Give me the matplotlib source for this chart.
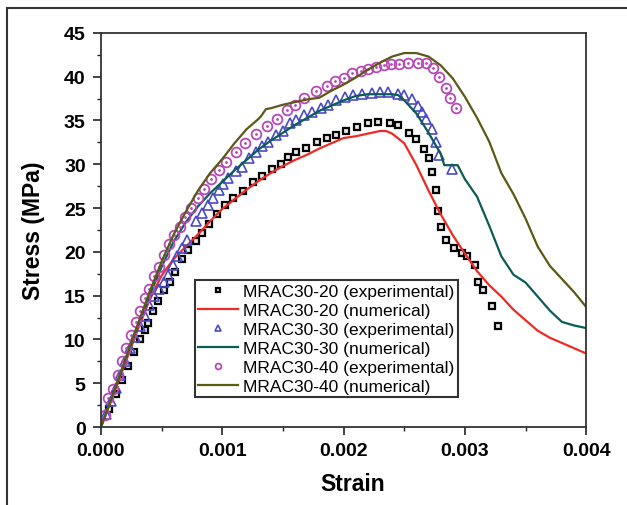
import numpy as np
import matplotlib
matplotlib.use("Agg")
import matplotlib.pyplot as plt
from matplotlib.lines import Line2D
from matplotlib.ticker import MultipleLocator, FormatStrFormatter

plt.rcParams['font.family'] = ['Liberation Sans', 'DejaVu Sans']

# ---- experimental points ----
strain_20_exp = [0.00007, 0.00012, 0.00017, 0.00022, 0.00027, 0.00032, 0.00036, 0.00039, 0.00043,
                 0.00047, 0.00052, 0.00057, 0.00061, 0.00067, 0.00072, 0.00078, 0.00083, 0.00089,
                 0.00096, 0.00102, 0.00109, 0.00117, 0.00125, 0.00133, 0.00141, 0.00148, 0.00154,
                 0.00161, 0.00169, 0.00178, 0.00186, 0.00194, 0.00202, 0.00211, 0.0022, 0.00228,
                 0.00238, 0.00245, 0.00254, 0.0026, 0.00266, 0.0027, 0.00273, 0.00276, 0.00278,
                 0.0028, 0.00284, 0.00291, 0.00298, 0.00302, 0.00308, 0.00311, 0.00315, 0.00322,
                 0.00327]
stress_20_exp = [2.1, 3.8, 5.4, 7.0, 8.6, 10.1, 11.1, 11.9, 13.2,
                 14.4, 15.6, 16.6, 17.7, 19.2, 20.2, 21.2, 22.2, 23.2,
                 24.3, 25.4, 26.1, 26.9, 28.0, 28.7, 29.5, 30.0, 30.8,
                 31.4, 31.9, 32.5, 33.0, 33.4, 33.8, 34.3, 34.7, 34.8,
                 34.7, 34.5, 33.6, 32.9, 31.8, 30.7, 29.1, 27.1, 24.7,
                 22.8, 21.4, 20.5, 19.9, 19.5, 18.5, 16.6, 15.7, 13.8,
                 11.5]

strain_30_exp = [0.00004, 0.00008, 0.00012, 0.00016, 0.0002, 0.00024, 0.00028, 0.00032, 0.00036,
                 0.0004, 0.00044, 0.00048, 0.00052, 0.00055, 0.00059, 0.00063, 0.00067, 0.00071,
                 0.00078, 0.00083, 0.00088, 0.00092, 0.00097, 0.00101, 0.00105, 0.00111, 0.00116,
                 0.00122, 0.00128, 0.00133, 0.00138, 0.00144, 0.0015, 0.00156, 0.00161, 0.00167,
                 0.00174, 0.00181, 0.00187, 0.00194, 0.00201, 0.00208, 0.00215, 0.00223, 0.0023,
                 0.00237, 0.00245, 0.0025, 0.00256, 0.00261, 0.00265, 0.00268, 0.00273, 0.00276,
                 0.00279, 0.00289]
stress_30_exp = [1.5, 3.0, 4.5, 6.0, 7.5, 9.0, 10.3, 11.5, 12.7,
                 13.9, 15.0, 15.8, 16.6, 17.4, 18.5, 19.5, 20.4, 21.4,
                 23.5, 24.4, 25.4, 26.1, 27.1, 27.7, 28.4, 29.2, 29.7,
                 30.7, 31.4, 32.1, 32.6, 33.3, 33.8, 34.7, 35.0, 35.6,
                 36.0, 36.4, 36.8, 37.3, 37.7, 37.9, 38.0, 38.1, 38.2,
                 38.3, 38.0, 37.9, 37.5, 36.6, 36.0, 35.2, 34.0, 32.6,
                 31.1, 29.5]

strain_40_exp = [0.00003, 0.00006, 0.0001, 0.00014, 0.00017, 0.00021, 0.00025, 0.00029, 0.00032,
                 0.00036, 0.0004, 0.00044, 0.00048, 0.00052, 0.00056, 0.0006, 0.00065, 0.00069,
                 0.00074, 0.0008, 0.00085, 0.00091, 0.00097, 0.00103, 0.00111, 0.00119, 0.00128,
                 0.00137, 0.00145, 0.00153, 0.0016, 0.00167, 0.00177, 0.00186, 0.00193, 0.002,
                 0.00207, 0.00214, 0.0022, 0.00227, 0.00233, 0.00239, 0.00246, 0.00253, 0.00261,
                 0.00268, 0.00274, 0.00279, 0.00284, 0.00288, 0.00293]
stress_40_exp = [1.4, 3.3, 4.4, 6.0, 7.5, 9.0, 10.5, 12.0, 13.3,
                 14.7, 15.8, 17.2, 18.3, 19.7, 20.9, 21.9, 22.8, 24.0,
                 25.0, 26.1, 27.2, 28.3, 29.3, 30.3, 31.4, 32.4, 33.5,
                 34.4, 35.2, 36.2, 36.8, 37.6, 38.4, 38.9, 39.5, 39.9,
                 40.4, 40.6, 40.9, 41.1, 41.3, 41.4, 41.5, 41.6, 41.6,
                 41.6, 41.0, 40.0, 38.7, 37.6, 36.4]

# ---- numerical curves ----
strain_20_num = [0, 0.0001, 0.0002, 0.0003, 0.0004, 0.0005, 0.0006, 0.0007, 0.0008, 0.0009,
                 0.001, 0.0011, 0.0012, 0.0013, 0.0014, 0.0015, 0.0016, 0.0017, 0.0018, 0.0019,
                 0.002, 0.0021, 0.0022, 0.0023, 0.00235, 0.0024, 0.0025, 0.0026, 0.0027, 0.0028,
                 0.0029, 0.003, 0.0031, 0.0032, 0.0033, 0.0034, 0.0035, 0.0036, 0.0037, 0.0038,
                 0.0039, 0.004]
stress_20_num = [0, 3.6, 7.3, 11.0, 14.5, 17.3, 19.2, 20.6, 22.0, 23.5,
                 24.9, 26.0, 27.1, 28.1, 29.0, 29.8, 30.5, 31.1, 31.8, 32.4,
                 33.0, 33.2, 33.5, 33.8, 33.8, 33.5, 32.4, 29.9, 27.0, 24.3,
                 21.9, 19.8, 17.8, 16.2, 14.9, 13.4, 12.2, 11.0, 10.2, 9.6,
                 9.0, 8.4]

strain_30_num = [0, 0.0001, 0.0002, 0.0003, 0.0004, 0.0005, 0.0006, 0.0007, 0.0008, 0.0009,
                 0.001, 0.0011, 0.0012, 0.0013, 0.0014, 0.0015, 0.0016, 0.0017, 0.0018, 0.0019,
                 0.002, 0.0021, 0.0022, 0.0023, 0.0024, 0.00245, 0.0025, 0.0026, 0.0027, 0.0028,
                 0.00283, 0.00294, 0.003, 0.0031, 0.0032, 0.0033, 0.0034, 0.0035, 0.0036, 0.0037,
                 0.0038, 0.0039, 0.004]
stress_30_num = [0, 3.8, 7.6, 11.4, 15.0, 18.3, 21.2, 23.4, 25.2, 26.7,
                 28.0, 29.3, 30.5, 31.7, 32.7, 33.6, 34.5, 35.3, 36.1, 36.7,
                 37.3, 37.8, 38.0, 38.0, 38.0, 37.9, 37.3, 35.8, 33.6, 31.2,
                 29.9, 29.9, 28.3, 26.3, 23.0, 19.5, 17.4, 16.5, 14.9, 13.3,
                 12.0, 11.6, 11.3]

strain_40_num = [0, 0.0001, 0.0002, 0.0003, 0.0004, 0.0005, 0.0006, 0.0007, 0.0008, 0.0009,
                 0.001, 0.0011, 0.0012, 0.0013, 0.00132, 0.00136, 0.0014, 0.0015, 0.0016, 0.0017,
                 0.0018, 0.0019, 0.002, 0.0021, 0.0022, 0.0023, 0.0024, 0.0025, 0.0026, 0.0027,
                 0.0028, 0.0029, 0.003, 0.0031, 0.0032, 0.0033, 0.0034, 0.0035, 0.0036, 0.0037,
                 0.0038, 0.0039, 0.004]
stress_40_num = [0, 3.8, 7.7, 11.6, 15.4, 18.9, 22.0, 24.6, 27.0, 29.0,
                 30.6, 32.4, 34.0, 35.2, 35.5, 36.3, 36.4, 36.8, 37.1, 37.4,
                 37.6, 38.4, 39.1, 39.9, 40.8, 41.6, 42.3, 42.7, 42.7, 42.3,
                 41.3, 39.8, 37.7, 35.3, 32.6, 29.0, 26.6, 23.8, 20.6, 18.4,
                 16.9, 15.4, 13.7]

labels = ["MRAC30-20 (experimental)", "MRAC30-20 (numerical)",
          "MRAC30-30 (experimental)", "MRAC30-30 (numerical)",
          "MRAC30-40 (experimental)", "MRAC30-40 (numerical)"]

fig = plt.figure(figsize=(6.27, 5.06), dpi=100)
ax = fig.add_axes([0.161, 0.154, 0.774, 0.779])

c_red = "#ee2a24"
c_teal = "#0b5c57"
c_olive = "#5a5a14"
c_blue = "#4a4ac4"
c_pink = "#b848b8"

ax.plot(strain_20_exp, stress_20_exp, ls="none", marker="s", ms=4.6, mfc="#e8e8e8",
        mec="black", mew=1.6, label=labels[0])
ax.plot(strain_20_num, stress_20_num, color=c_red, lw=1.6, label=labels[1])
ax.plot(strain_30_exp, stress_30_exp, ls="none", marker="^", ms=7, mfc="none",
        mec=c_blue, mew=1.2, label=labels[2])
ax.plot(strain_30_num, stress_30_num, color=c_teal, lw=1.6, label=labels[3])
ax.plot(strain_40_exp, stress_40_exp, ls="none", marker="o", ms=7, mfc="none",
        mec=c_pink, mew=1.3, label=labels[4])
ax.plot(strain_40_exp, stress_40_exp, ls="none", marker=".", ms=2, color=c_pink)
ax.plot(strain_40_num, stress_40_num, color=c_olive, lw=1.6, label=labels[5])

ax.set_xlim(0, 0.004)
ax.set_ylim(0, 45)
ax.xaxis.set_major_locator(MultipleLocator(0.001))
ax.xaxis.set_minor_locator(MultipleLocator(0.0005))
ax.xaxis.set_major_formatter(FormatStrFormatter("%.3f"))
ax.yaxis.set_major_locator(MultipleLocator(5))
ax.yaxis.set_minor_locator(MultipleLocator(2.5))

ax.tick_params(which="major", length=6, width=1.2, direction="out", pad=5,
               labelsize=14, colors="#222222", labelcolor="black")
ax.tick_params(which="minor", length=3, width=1.0, direction="out", colors="#222222")
for lab in ax.get_xticklabels() + ax.get_yticklabels():
    lab.set_fontweight("bold")

for sp in ax.spines.values():
    sp.set_linewidth(1.3)
    sp.set_color("#333333")

ax.set_xlabel("Strain", fontsize=16.5, fontweight="bold")
ax.set_ylabel("Stress (MPa)", fontsize=16.5, fontweight="bold")
ax.xaxis.set_label_coords(0.518, -0.115)
ax.yaxis.set_label_coords(-0.115, 0.5)

leg = ax.legend(loc="lower left", bbox_to_anchor=(0.1935, 0.076), borderaxespad=0,
                fontsize=12.5, frameon=True, fancybox=False, edgecolor="black",
                labelspacing=0.22, handlelength=2.3, handletextpad=0.3,
                borderpad=0.2, markerscale=0.6)
leg.get_frame().set_linewidth(1.5)

# outer border of the original figure (left and top edges)
fig.add_artist(Line2D([0.0112, 0.0112], [0.0, 0.982], color="#333333", lw=1.5))
fig.add_artist(Line2D([0.0112, 1.0], [0.982, 0.982], color="#333333", lw=1.5))

fig.savefig("out.png", dpi=100)
